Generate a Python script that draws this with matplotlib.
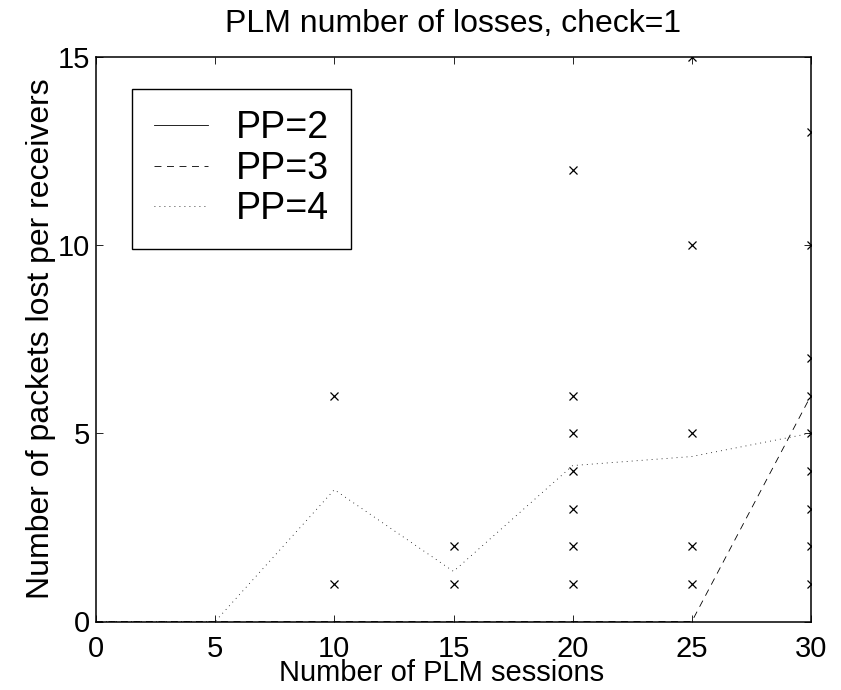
import numpy as np
import matplotlib
matplotlib.use("Agg")
import matplotlib.pyplot as plt

plt.rcParams['font.family'] = ['Liberation Sans', 'DejaVu Sans']
plt.rcParams['lines.scale_dashes'] = False

# mean losses per receiver for each PP value
sessions = [0, 5, 10, 15, 20, 25, 30]
pp2 = [0, 0, 0, 0, 0, 0, 0]
pp3 = [0, 0, 0, 0, 0, 0, 6]
pp4 = [0, 0, 3.5, 1.33, 4.14, 4.38, 5.0]

# individual receiver losses
pts_x = [10, 10,
         15, 15,
         20, 20, 20, 20, 20, 20, 20,
         25, 25, 25, 25, 25,
         30, 30, 30, 30, 30, 30, 30, 30, 30]
pts_y = [6, 1,
         2, 1,
         12, 6, 5, 4, 3, 2, 1,
         15, 10, 5, 2, 1,
         13, 10, 7, 6, 5, 4, 3, 2, 1]

fig = plt.figure(figsize=(8.41, 6.90), dpi=100)
ax = fig.add_axes([96 / 841, 1 - 621.5 / 690, 715 / 841, 565 / 690])

ax.plot(sessions, pp2, color='k', lw=0.6, linestyle='-', label='PP=2')
ax.plot(sessions, pp3, color='k', lw=0.6, linestyle=(0, (5, 4)), label='PP=3')
ax.plot(sessions, pp4, color='k', lw=0.6, linestyle=(0, (0.6, 3)), label='PP=4')
ax.plot(pts_x, pts_y, linestyle='none', marker='x', color='k',
        markersize=5.5, markeredgewidth=0.9)

ax.set_xlim(0, 30)
ax.set_ylim(0, 15)
ax.set_xticks([0, 5, 10, 15, 20, 25, 30])
ax.set_yticks([0, 5, 10, 15])
ax.tick_params(direction='in', length=5, width=0.6, top=True, right=True,
               labelsize=21)
ax.tick_params(axis='x', pad=9.4)
ax.tick_params(axis='y', pad=4)
for s in ax.spines.values():
    s.set_linewidth(1.1)

ax.set_title('PLM number of losses, check=1', fontsize=23, pad=17.5)
ax.set_xlabel('Number of PLM sessions', fontsize=21)
ax.set_ylabel('Number of packets lost per receivers', fontsize=23)
ax.xaxis.set_label_coords(0.484, -0.066, transform=ax.transAxes)
ax.yaxis.set_label_coords(-0.056, 0.5, transform=ax.transAxes)
ax.xaxis.label.set_va('top')

leg = ax.legend(loc='upper left', bbox_to_anchor=(36 / 715, 1 - 32 / 565),
                borderaxespad=0, fontsize=27, frameon=True, fancybox=False,
                framealpha=1, edgecolor='k', handlelength=1.45,
                handletextpad=0.75, labelspacing=0.12, borderpad=0.58)
leg.get_frame().set_linewidth(1.0)

fig.savefig('out.png', dpi=100)
